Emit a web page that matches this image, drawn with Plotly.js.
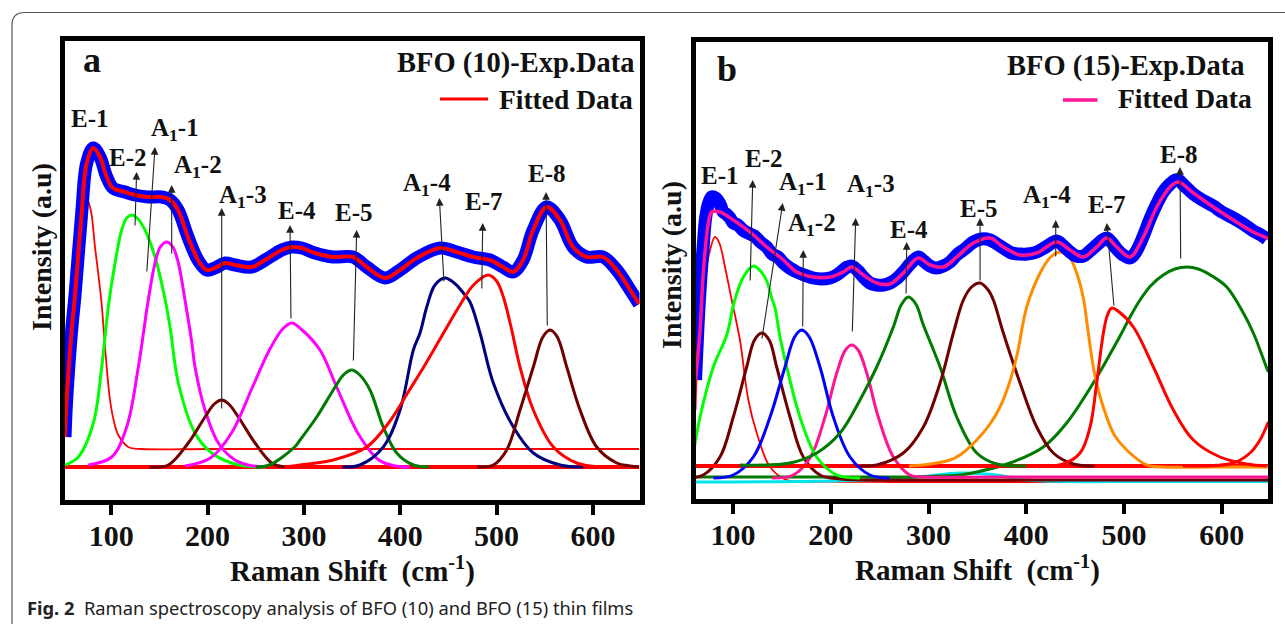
<!DOCTYPE html>
<html>
<head>
<meta charset="utf-8">
<script src="https://cdn.plot.ly/plotly-3.0.1.min.js"></script>
<style>
  html, body { margin: 0; padding: 0; background: #ffffff; }
  #chart { width: 1285px; height: 624px; }
</style>
</head>
<body>
<div id="chart"></div>
<script>
// ---------- Panel a : BFO (10) ----------
const aExpX = [52.1, 53.8, 59.0, 62.5, 69.4, 74.6, 81.4, 88.4, 95.4, 101.9, 114.3, 124.7, 138.2, 152.4, 161.1, 169.4, 179.7, 190.1, 199.1, 207.8, 218.2, 228.5, 245.9, 259.7, 277, 287.4, 297.7, 311.5, 330.2, 351, 365.2, 384.2, 399.8, 417.1, 441.3, 458.6, 475.5, 493.2, 506.7, 517.1, 527.5, 537.9, 552, 565.8, 579.3, 593.5, 610.5, 624.7, 640, 648];
const aExpY = [30, 67, 137, 172, 254, 304, 319, 310, 290, 279, 275, 272, 270, 270, 267, 257, 230, 207, 197, 199, 204, 202, 200, 207, 217, 220, 219, 214, 210, 210, 200, 189, 197, 209, 219, 215, 210, 207, 200, 195, 207, 237, 260, 247, 220, 210, 210, 197, 175, 163];
const aFitX = aExpX;
const aFitY = aExpY;

const aE1X = [52.1, 57.3, 65.9, 71, 75.2, 79, 83.2, 87, 90.2, 93.6, 98.8, 103, 107.4, 117.8, 131.7, 200, 300, 400, 500, 648];
const aE1Y = [60, 140, 227, 257, 267, 256, 220, 190, 162, 120, 67, 45, 32, 20, 18, 18, 18, 18, 18, 18];
const aE2X = [52.1, 65.9, 81.5, 90.2, 97, 104, 110.9, 116, 121.3, 127, 135.1, 145.5, 155.9, 161.1, 169.7, 187, 204.3, 225, 239, 260];
const aE2Y = [2, 10, 44, 100, 160, 204, 237, 249, 252, 249, 237, 210, 168, 140, 84, 34, 14, 4, 1, 0];
const aA12X = [76.3, 100.5, 116.1, 128.2, 138.5, 145.5, 151, 157.6, 164, 169.7, 176.6, 183.6, 187, 197.4, 211.2, 228.5, 242, 260];
const aA12Y = [2, 10, 40, 100, 167, 204, 220, 225, 220, 204, 167, 125, 100, 57, 24, 7, 2, 0];
const aA13X = [140, 159.3, 180, 197.4, 207, 214.7, 222, 232, 249.3, 266.6, 280];
const aA13Y = [0, 2, 24, 50, 63, 67, 63, 50, 24, 4, 0];
const aE4X = [176.6, 203, 224.9, 246.7, 264.2, 278, 287.4, 297, 316.7, 334, 355.9, 377.8, 395, 410];
const aE4Y = [1, 9, 34, 80, 117, 138, 144, 138, 117, 80, 34, 7, 1, 0];
const aE5X = [250, 264.2, 290.4, 296, 313.3, 330.5, 341, 349.6, 358, 368.6, 382.4, 396.3, 413.6, 430];
const aE5Y = [0, 2, 20, 27, 50, 77, 92, 97, 92, 77, 40, 14, 2, 0];
const aA14X = [340, 358.2, 382.4, 399.8, 413.6, 420.5, 427.5, 436, 446.5, 456, 465.5, 472.4, 482.8, 496.6, 517.4, 538.1, 565.8, 590];
const aA14Y = [0, 2, 20, 57, 117, 134, 160, 182, 189, 184, 174, 165, 134, 84, 40, 14, 2, 0];
const aE7X = [280, 296, 330.5, 365.2, 389.4, 410.2, 425, 441.3, 462, 476, 491.4, 500, 507, 515, 524.3, 538.1, 558.9, 583.1, 607.3];
const aE7Y = [0, 2, 7, 20, 46, 78, 101, 128, 162, 182, 192, 186, 170, 140, 100, 57, 20, 4, 0];
const aE8X = [480, 496.6, 510.5, 524.3, 538.1, 548, 555.5, 563, 572.8, 586.6, 603.9, 624.7, 638.5, 648];
const aE8Y = [0, 2, 17, 57, 100, 130, 137, 130, 100, 57, 20, 4, 1, 0];
const aBaseX = [52.1, 648];
const aBaseY = [0, 0];

const aLabelText = ['E-1', 'E-2', 'A<sub>1</sub>-1', 'A<sub>1</sub>-2', 'A<sub>1</sub>-3', 'E-4', 'E-5', 'A<sub>1</sub>-4', 'E-7', 'E-8'];
const aLabelX = [78.5, 117.5, 166.2, 190.1, 236.8, 292.9, 352, 427.8, 487, 552];
const aLabelY = [347, 308, 336, 299, 269, 255, 253, 281, 264, 292];
const aArrowTailX = [124.7, 136.9, 162.8, 214.7, 286.6, 351.3, 445.4, 484.6, 552.6];
const aArrowTailY = [240, 194, 212, 57, 147, 105, 184, 177, 140];
const aArrowHeadX = [126.4, 145.5, 162.8, 214.7, 285.6, 354.8, 440.6, 485.6, 551.3];
const aArrowHeadY = [295, 320, 282, 259, 242, 237, 269, 244, 275];

// ---------- Panel b : BFO (15) ----------
const bExpX = [61.7, 64, 66.3, 69.6, 72, 74.8, 78.2, 82, 86.7, 90, 93, 97, 100.3, 105, 110, 117.4, 122, 128, 134.5, 140, 146, 151.5, 158, 165.2, 173, 182.2, 190, 199.2, 206, 212.8, 217, 221.4, 228, 233.3, 240, 247, 254, 260.6, 267, 274.2, 282, 289.5, 295, 301.5, 308, 315.1, 322, 328.8, 337, 345.8, 354, 362.9, 370, 376.5, 385, 393.6, 401, 410.6, 420, 431.1, 438, 444.7, 451, 458.3, 465, 472, 478, 482.2, 487, 492.5, 499, 506.1, 512, 519.7, 526, 533.4, 540, 547, 552, 555.5, 562, 570.8, 580, 591.3, 600, 611.7, 622, 632.2, 640, 645.9];
const bExpY = [100, 150, 190, 235, 262, 276, 283, 282, 276, 268, 266, 262, 257, 255, 250, 246, 244, 238, 233, 226, 223, 217, 212, 208, 205, 202, 201, 202, 205, 210, 213, 214, 209, 203, 197, 195, 195, 197, 201, 208, 217, 223, 219, 214, 212, 214, 218, 225, 231, 238, 241, 240, 236, 232, 227, 226, 226, 228, 233, 239, 234, 228, 224, 224, 229, 235, 240, 242, 238, 231, 225, 222, 228, 244, 260, 276, 288, 296, 300, 300, 294, 286, 280, 274, 268, 262, 256, 249, 245, 241];
const bFitX = [61.7, 66.3, 69.6, 74.8, 78.2, 86.7, 100.3, 117.4, 134.5, 151.5, 165.2, 182.2, 199.2, 212.8, 221.4, 233.3, 247, 260.6, 274.2, 289.5, 301.5, 315.1, 328.8, 345.8, 362.9, 376.5, 393.6, 410.6, 431.1, 444.7, 458.3, 472, 482.2, 492.5, 506.1, 519.7, 533.4, 547, 555.5, 570.8, 591.3, 611.7, 632.2, 645.9, 647.5];
const bFitY = [100, 150, 207, 257, 268, 268, 260, 248, 233, 220, 208, 203, 203, 208, 213, 205, 197, 196, 207, 222, 215, 213, 223, 237, 242, 233, 225, 227, 238, 230, 223, 233, 242, 233, 223, 243, 273, 293, 298, 287, 273, 260, 248, 242, 241];

const bE1X = [61.7, 64.5, 69.6, 74.8, 81.6, 86, 91.8, 98.7, 107.1, 115.7, 124.3, 137.9, 155, 200, 260, 350, 450, 550, 647.5];
const bE1Y = [70, 140, 190, 223, 243, 237, 213, 180, 140, 80, 47, 13, 0, -1.5, -2, -2, -2, -2, -2];
const bE2X = [60.1, 66.3, 79.9, 93.6, 101, 110.6, 120.8, 129, 134.5, 139.6, 143, 148.1, 155, 168.5, 185.6, 206.1, 230];
const bE2Y = [30, 63, 113, 145, 177, 203, 214, 208, 199, 182, 172, 143, 113, 63, 23, 5, 2];
const bA11X = [55, 69.6, 86.7, 100.3, 114, 122, 129.4, 137, 144.7, 158.3, 171.9, 189, 210, 260, 330, 420, 520, 647.5];
const bA11Y = [2, 5, 23, 63, 113, 140, 147, 140, 113, 63, 23, 5, 1, 0, 0, 0, 0, 0];
const bA12X = [80, 100.3, 120.8, 137.9, 153.2, 163, 170.3, 178, 189, 202.6, 219.7, 240.1, 260];
const bA12Y = [2, 5, 23, 63, 113, 143, 150, 143, 113, 63, 23, 5, 2];
const bA13X = [140, 161.7, 179.3, 194.1, 206.1, 215, 221.4, 228, 236.8, 248.6, 264, 281, 300, 360, 430, 520, 647.5];
const bA13Y = [2, 5, 23, 63, 107, 130, 135, 130, 107, 63, 23, 5, 3, 3, 3, 3, 3];
const bE4X = [107.2, 158.3, 185.6, 209.5, 229.9, 247, 264, 272, 279.3, 287, 294.7, 311.8, 328.8, 349.3, 369.7, 400];
const bE4Y = [15, 17, 27, 47, 80, 113, 153, 175, 183, 176, 155, 113, 63, 27, 16, 14];
const bE5X = [230, 247, 274.2, 294.7, 311.8, 325.4, 335.6, 344, 352.7, 361, 366.3, 376.5, 393.6, 410.6, 427.6, 448, 470];
const bE5Y = [14, 15, 27, 53, 97, 147, 180, 193, 197, 190, 180, 147, 97, 53, 27, 16, 14];
const bA14X = [280, 294.7, 322, 332.2, 349.3, 362.9, 373.1, 382, 390.5, 400.4, 414.1, 425, 434.5, 444, 451.5, 458.3, 463, 468.5, 475, 482.2, 490, 502.7, 523.2, 540, 590, 647.5];
const bA14Y = [14, 15, 20, 25, 40, 56, 73, 95, 125, 173, 207, 223, 228, 223, 207, 182, 150, 113, 85, 63, 45, 30, 15, 13, 13, 13];
const bE7X = [420, 437.9, 455, 465.2, 472, 478.8, 483, 487.4, 495, 509.5, 530, 550.4, 570.8, 598.1, 625.4, 645.9];
const bE7Y = [14, 16, 27, 53, 97, 147, 165, 172, 168, 153, 113, 70, 40, 23, 16, 14];
const bE8X = [61.7, 130, 200, 260, 300, 332.2, 349.3, 383.4, 417.4, 441.3, 468.5, 495.9, 506.1, 516.3, 527, 540, 552, 564.1, 576, 590, 605, 622, 632.2, 645.9, 647.5];
const bE8Y = [3, 3, 3, 3, 3.5, 5, 8, 17, 33, 57, 97, 144, 163, 180, 194, 205, 211, 213, 211, 204, 193, 167, 147, 112, 108];
const bE9X = [560, 611.7, 628.8, 639, 647.5];
const bE9Y = [14, 17, 27, 40, 58];
const bCyanX = [61.7, 200, 260, 294.7, 332, 366, 400, 440, 520, 647.5];
const bCyanY = [-2, -1, 1, 3.5, 7, 5.5, 0, -1.5, -1.5, -1.5];
const bBaseX = [61.7, 647.5];
const bBaseY = [14, 14];

const bLabelText = ['E-1', 'E-2', 'A<sub>1</sub>-1', 'A<sub>1</sub>-2', 'A<sub>1</sub>-3', 'E-4', 'E-5', 'A<sub>1</sub>-4', 'E-7', 'E-8'];
const bLabelX = [86.7, 131.2, 171.6, 180.8, 241.2, 280, 351.6, 421.2, 482.6, 556.2];
const bLabelY = [303, 320, 295, 254, 293, 249, 270, 282, 274, 324];
const bArrowTailX = [117.5, 129.4, 171.3, 222, 277, 352.7, 430.1, 489.7, 557.9];
const bArrowTailY = [198, 140, 152, 147, 185, 198, 222, 173, 220];
const bArrowHeadX = [120.2, 150.9, 171.9, 225.5, 277.7, 352.7, 430.1, 482.3, 557.2];
const bArrowHeadY = [300, 277, 230, 262, 238, 262, 260, 257, 313];

const xTicks = [100, 200, 300, 400, 500, 600];

// ---------- build ----------
const SERIF = 'Liberation Serif, Times New Roman, serif';
function ln(x, y, color, width, xa, ya) {
  return { x: x, y: y, xaxis: xa, yaxis: ya, type: 'scatter', mode: 'lines',
    line: { color: color, width: width, shape: 'spline', smoothing: 1 },
    hoverinfo: 'skip', showlegend: false };
}
const data = [
  ln(aBaseX, aBaseY, '#ff0000', 4, 'x', 'y'),
  ln(aE1X, aE1Y, '#ff0000', 1.8, 'x', 'y'),
  ln(aE2X, aE2Y, '#00ff00', 3, 'x', 'y'),
  ln(aA12X, aA12Y, '#ff00ff', 3, 'x', 'y'),
  ln(aA13X, aA13Y, '#700000', 3, 'x', 'y'),
  ln(aE4X, aE4Y, '#ff00ff', 3, 'x', 'y'),
  ln(aE5X, aE5Y, '#007a00', 3, 'x', 'y'),
  ln(aA14X, aA14Y, '#000080', 3, 'x', 'y'),
  ln(aE7X, aE7Y, '#ff0000', 3, 'x', 'y'),
  ln(aE8X, aE8Y, '#700000', 3, 'x', 'y'),
  ln(aExpX, aExpY, '#0000ff', 13, 'x', 'y'),
  ln(aFitX, aFitY, '#ff0000', 4, 'x', 'y'),

  ln(bE1X, bE1Y, '#ff0000', 1.8, 'x2', 'y2'),
  ln(bCyanX, bCyanY, '#00e5ee', 3, 'x2', 'y2'),
  ln(bE8X, bE8Y, '#007a00', 3, 'x2', 'y2'),
  ln(bA11X, bA11Y, '#700000', 3, 'x2', 'y2'),
  ln(bA13X, bA13Y, '#ff1493', 3, 'x2', 'y2'),
  ln(bBaseX, bBaseY, '#ff0000', 4, 'x2', 'y2'),
  ln(bE2X, bE2Y, '#00ff00', 3, 'x2', 'y2'),
  ln(bA12X, bA12Y, '#0000ff', 3, 'x2', 'y2'),
  ln(bE4X, bE4Y, '#007a00', 3, 'x2', 'y2'),
  ln(bE5X, bE5Y, '#700000', 3, 'x2', 'y2'),
  ln(bA14X, bA14Y, '#ff8c00', 3, 'x2', 'y2'),
  ln(bE7X, bE7Y, '#ff0000', 3, 'x2', 'y2'),
  ln(bE9X, bE9Y, '#ff0000', 3, 'x2', 'y2'),
  ln(bExpX, bExpY, '#0000ff', 13, 'x2', 'y2'),
  ln(bFitX, bFitY, '#ff1493', 3.5, 'x2', 'y2')
];

const annotations = [];
function addPanel(texts, lx, ly, tx, ty, hx, hy, xr, yr) {
  for (let i = 0; i < tx.length; i++) {
    annotations.push({ xref: xr, yref: yr, axref: xr, ayref: yr, x: hx[i], y: hy[i], ax: tx[i], ay: ty[i],
      text: '', showarrow: true, arrowhead: 2, arrowsize: 1.4, arrowwidth: 1.1, arrowcolor: '#222', standoff: 0 });
  }
  for (let i = 0; i < texts.length; i++) {
    annotations.push({ xref: xr, yref: yr, x: lx[i], y: ly[i], text: '<b>' + texts[i] + '</b>',
      showarrow: false, xanchor: 'center', yanchor: 'middle', yshift: 2,
      font: { family: SERIF, size: 25, color: '#111' } });
  }
}
addPanel(aLabelText, aLabelX, aLabelY, aArrowTailX, aArrowTailY, aArrowHeadX, aArrowHeadY, 'x', 'y');
addPanel(bLabelText, bLabelX, bLabelY, bArrowTailX, bArrowTailY, bArrowHeadX, bArrowHeadY, 'x2', 'y2');

const W = 1285, H = 624;
function px(x) { return x / W; }
function py(y) { return 1 - y / H; }
function paperText(text, x, y, size, opts) {
  return Object.assign({ xref: 'paper', yref: 'paper', x: px(x), y: py(y), text: text, showarrow: false,
    xanchor: 'center', yanchor: 'middle', font: { family: SERIF, size: size, color: '#111' } }, opts || {});
}
annotations.push(paperText('<b>a</b>', 92.5, 60, 36));
annotations.push(paperText('<b>b</b>', 727, 69, 36));
annotations.push(paperText('<b>BFO (10)-Exp.Data</b>', 637, 63, 28.5, { xanchor: 'right' }));
annotations.push(paperText('<b>Fitted Data</b>', 635, 99, 27.5, { xanchor: 'right' }));
annotations.push(paperText('<b>BFO (15)-Exp.Data</b>', 1247, 66, 28.5, { xanchor: 'right' }));
annotations.push(paperText('<b>Fitted Data</b>', 1254, 98, 27.5, { xanchor: 'right' }));
annotations.push(paperText('<b>Intensity (a.u)</b>', 42, 247, 28, { textangle: -90 }));
annotations.push(paperText('<b>Intensity (a.u)</b>', 671, 265, 28, { textangle: -90 }));
annotations.push(paperText('<b>Raman Shift\u00a0 (cm<sup>-1</sup>)</b>', 352.5, 569, 29));
annotations.push(paperText('<b>Raman Shift\u00a0 (cm<sup>-1</sup>)</b>', 977, 568, 29));
annotations.push(paperText('<b>Fig. 2</b>\u00a0 Raman spectroscopy analysis of BFO (10) and BFO (15) thin films', 25, 607, 18.3,
  { xanchor: 'left', font: { family: 'Noto Sans, Open Sans, sans-serif', size: 18.3, color: '#222' } }));

const shapes = [
  { type: 'line', xref: 'paper', yref: 'paper', x0: px(440), x1: px(488), y0: py(99), y1: py(99),
    line: { color: '#ff0000', width: 3 } },
  { type: 'line', xref: 'paper', yref: 'paper', x0: px(1063), x1: px(1097.5), y0: py(100), y1: py(100),
    line: { color: '#ff1493', width: 3.5 } },
  { type: 'path', xref: 'paper', yref: 'paper',
    path: 'M ' + px(12) + ',0 L ' + px(12) + ',' + py(25) + ' Q ' + px(12) + ',' + py(12.5) + ' ' + px(25) + ',' + py(12.5) + ' L 1,' + py(12.5),
    line: { color: '#555555', width: 1.2 } }
];

function xAxis(domain, range, anchor) {
  return { domain: domain, range: range, anchor: anchor, tickvals: xTicks, ticktext: xTicks.map(String),
    ticks: 'outside', ticklen: 10, tickwidth: 4, tickcolor: '#000', showline: true, linewidth: 5,
    linecolor: '#000', mirror: true, showgrid: false, zeroline: false, ticklabelstandoff: -5,
    tickfont: { family: SERIF, size: 30, color: '#111', weight: 'bold' }, fixedrange: true };
}
function yAxis(domain, range, anchor) {
  return { domain: domain, range: range, anchor: anchor, showticklabels: false, ticks: '',
    showline: true, linewidth: 5, linecolor: '#000', mirror: true, showgrid: false, zeroline: false, fixedrange: true };
}

const layout = {
  width: W, height: H, margin: { l: 0, r: 0, t: 0, b: 0 },
  paper_bgcolor: '#ffffff', plot_bgcolor: '#ffffff', showlegend: false,
  xaxis: xAxis([65 / W, 639.5 / W], [52.08, 648.3], 'y'),
  yaxis: yAxis([1 - 500 / H, 1 - 41 / H], [-33, 426], 'x'),
  xaxis2: xAxis([695.5 / W, 1268.3 / W], [61.65, 647.5], 'y2'),
  yaxis2: yAxis([1 - 499 / H, 1 - 41.5 / H], [-19, 438.5], 'x2'),
  annotations: annotations,
  shapes: shapes
};

Plotly.newPlot('chart', data, layout, { staticPlot: true, displayModeBar: false });
</script>
</body>
</html>
